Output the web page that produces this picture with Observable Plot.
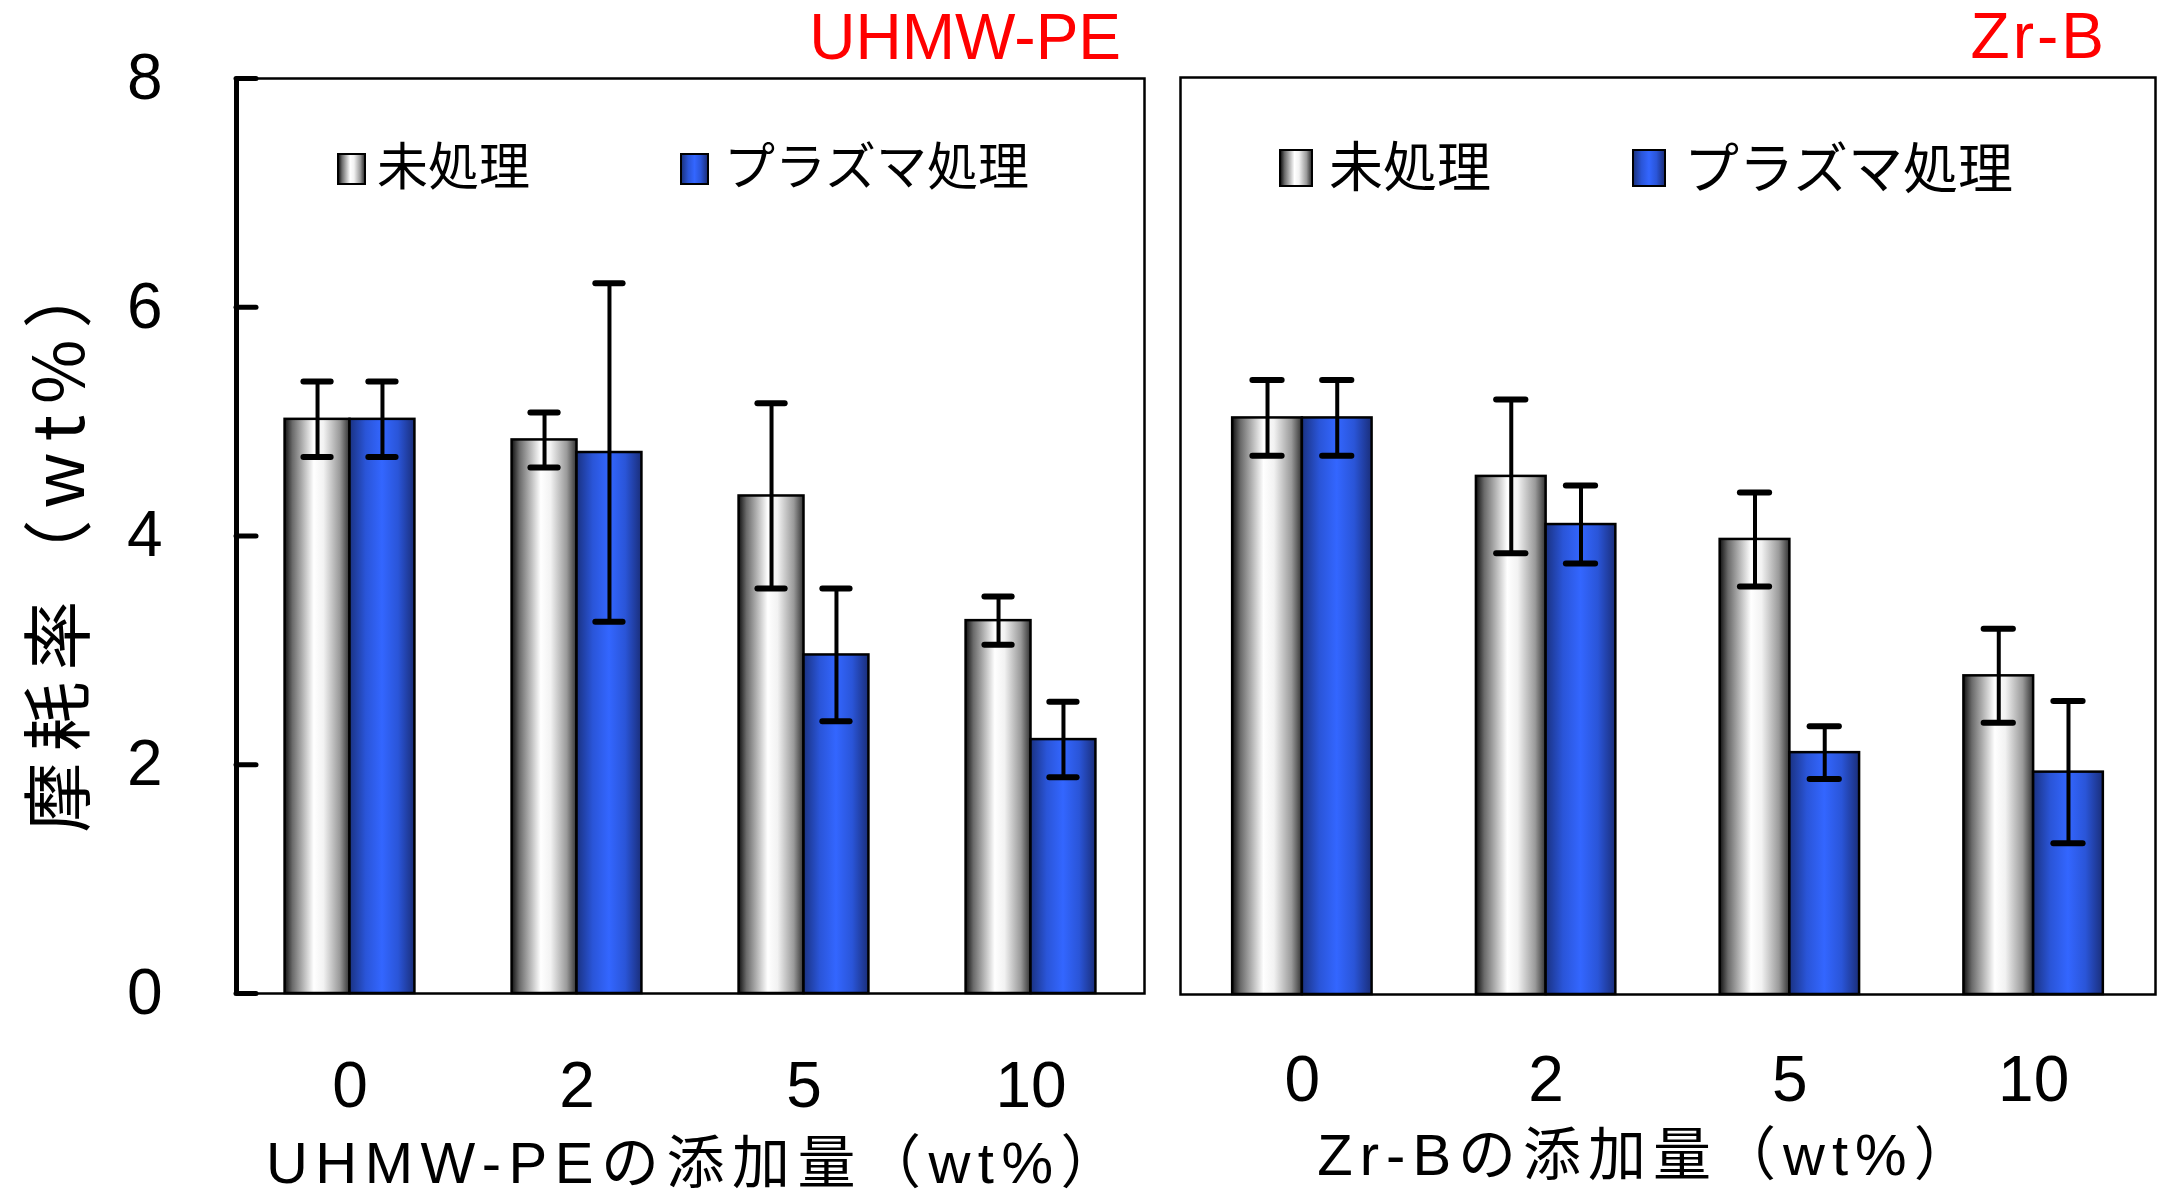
<!DOCTYPE html>
<html><head><meta charset="utf-8">
<script src="https://cdn.jsdelivr.net/npm/d3@7"></script>
<script src="https://cdn.jsdelivr.net/npm/@observablehq/plot@0.6"></script>
<style>
body{margin:0;background:#fff;}
#root{position:relative;width:2165px;height:1197px;overflow:hidden;font-family:"Noto Sans CJK JP","Noto Sans",sans-serif;color:#000;}
.abs{position:absolute;white-space:nowrap;line-height:1;}
.sw{position:absolute;box-sizing:border-box;border:2.5px solid #000;}
</style></head><body><div id="root"></div>
<script>
// ---- data ----
const groups = ["0", "2", "5", "10"];
const seriesNames = ["未処理", "プラズマ処理"];
const panelTitles = ["UHMW-PE", "Zr-B"];
const xTitles = ["UHMW-PEの添加量（wt%）", "Zr-Bの添加量（wt%）"];
const yTitle = "摩耗率（wt%）";
const yTicks = [0, 2, 4, 6, 8];

const uhmwUntreated    = [5.02, 4.84, 4.35, 3.26];
const uhmwUntreatedErr = [0.33, 0.24, 0.81, 0.21];
const uhmwPlasma       = [5.02, 4.73, 2.96, 2.22];
const uhmwPlasmaErr    = [0.33, 1.48, 0.58, 0.33];

const zrbUntreated     = [5.03, 4.52, 3.97, 2.78];
const zrbUntreatedErr  = [0.33, 0.67, 0.41, 0.41];
const zrbPlasma        = [5.03, 4.10, 2.11, 1.94];
const zrbPlasmaErr     = [0.33, 0.34, 0.23, 0.62];

// ---- helpers ----
const root = document.getElementById("root");
const FONT = '"Noto Sans CJK JP","Noto Sans",sans-serif';
const LAT = '"Liberation Sans",Arial,"Noto Sans CJK JP",sans-serif';

function addText(txt, style) {
  const d = document.createElement("div");
  d.className = "abs";
  d.textContent = txt;
  Object.assign(d.style, style);
  root.appendChild(d);
  return d;
}
function addSwatch(style, bg) {
  const d = document.createElement("div");
  d.className = "sw";
  Object.assign(d.style, style);
  d.style.background = bg;
  root.appendChild(d);
}
const grayCss = "linear-gradient(to right,#1a1a1a 0%,#6a6a6a 12%,#ffffff 45%,#f2f2f2 60%,#9a9a9a 85%,#3a3a3a 100%)";
const blueCss = "linear-gradient(to right,#1c3585 0%,#2a55d8 25%,#3366ff 50%,#2a55d8 75%,#1c3080 100%)";

function addGradients(svg, id) {
  const defs = d3.select(svg).insert("defs", ":first-child");
  const g = defs.append("linearGradient").attr("id", id + "-grad0").attr("x1", 0).attr("x2", 1).attr("y1", 0).attr("y2", 0);
  [[0, "#111111"], [0.12, "#6a6a6a"], [0.45, "#ffffff"], [0.6, "#f2f2f2"], [0.85, "#9a9a9a"], [1, "#333333"]]
    .forEach(([o, c]) => g.append("stop").attr("offset", o).attr("stop-color", c));
  const b = defs.append("linearGradient").attr("id", id + "-grad1").attr("x1", 0).attr("x2", 1).attr("y1", 0).attr("y2", 0);
  [[0, "#1a3282"], [0.25, "#2a55d8"], [0.5, "#3366ff"], [0.75, "#2a55d8"], [1, "#1a2e7a"]]
    .forEach(([o, c]) => b.append("stop").attr("offset", o).attr("stop-color", c));
}

function buildPanel(cfg) {
  const rows = [];
  cfg.series.forEach((s, si) => {
    groups.forEach((g, gi) => rows.push({group: g, gi, si, value: s.values[gi], err: s.errors[gi]}));
  });
  const W = 0.286, C = 0.06;
  const x1 = d => d.gi + 0.5 - (d.si === 0 ? W : 0);
  const x2 = d => x1(d) + W;
  const xc = d => x1(d) + W / 2;
  const frameW = cfg.width - cfg.marginLeft - cfg.marginRight;

  const marks = [];
  [0, 1].forEach(si => marks.push(Plot.rect(rows.filter(d => d.si === si), {
    x1, x2, y1: 0, y2: "value", fill: `url(#${cfg.id}-grad${si})`, stroke: "black", strokeWidth: 2.5
  })));
  marks.push(Plot.ruleX(rows, {x: xc, y1: d => d.value - d.err, y2: d => d.value + d.err, strokeWidth: 4, stroke: "black"}));
  marks.push(Plot.ruleY(rows, {y: d => d.value + d.err, x1: d => xc(d) - C, x2: d => xc(d) + C, strokeWidth: 6, strokeLinecap: "round", stroke: "black"}));
  marks.push(Plot.ruleY(rows, {y: d => d.value - d.err, x1: d => xc(d) - C, x2: d => xc(d) + C, strokeWidth: 6, strokeLinecap: "round", stroke: "black"}));
  marks.push(Plot.frame({stroke: "black", strokeWidth: 2.5}));
  marks.push(Plot.axisX(groups.map((g, i) => i + 0.5), {
    tickSize: 0, tickPadding: cfg.xTickPad, fontSize: 64, fontFamily: LAT, label: null,
    tickFormat: d => groups[Math.floor(d)]
  }));
  if (cfg.showY) {
    marks.push(Plot.ruleX([0], {strokeWidth: 5, stroke: "black"}));
    marks.push(Plot.tickY(yTicks, {y: d => d, strokeWidth: 5, stroke: "black", strokeLinecap: "round", insetRight: frameW - 20}));
    marks.push(Plot.axisY(yTicks, {tickSize: 0, tickPadding: 74, fontSize: 64, fontFamily: LAT, label: null, tickFormat: d => String(d)}));
  }
  const svg = Plot.plot({
    width: cfg.width,
    height: cfg.height,
    marginLeft: cfg.marginLeft,
    marginRight: cfg.marginRight,
    marginTop: cfg.marginTop,
    marginBottom: cfg.marginBottom,
    style: {fontFamily: FONT, background: "transparent", overflow: "visible"},
    x: {domain: [0, 4]},
    y: cfg.showY ? {domain: [0, 8]} : {domain: [0, 8], axis: null},
    marks
  });
  addGradients(svg, cfg.id);
  svg.style.position = "absolute";
  svg.style.left = cfg.left + "px";
  svg.style.top = "0px";
  svg.style.maxWidth = "none";
  root.appendChild(svg);
}

buildPanel({
  id: "uhmw", left: 0, width: 1160, height: 1197,
  marginLeft: 236, marginRight: 16, marginTop: 78, marginBottom: 204,
  xTickPad: 68, showY: true,
  series: [{values: uhmwUntreated, errors: uhmwUntreatedErr}, {values: uhmwPlasma, errors: uhmwPlasmaErr}]
});
buildPanel({
  id: "zrb", left: 1160, width: 1005, height: 1197,
  marginLeft: 20, marginRight: 10, marginTop: 77, marginBottom: 203,
  xTickPad: 61, showY: false,
  series: [{values: zrbUntreated, errors: zrbUntreatedErr}, {values: zrbPlasma, errors: zrbPlasmaErr}]
});

// panel titles (red)
addText(panelTitles[0], {right: (2165 - 1121) + "px", top: "5px", fontSize: "64px", color: "#ff0000", fontFamily: LAT});
addText(panelTitles[1], {right: (2165 - 2107) + "px", top: "4px", fontSize: "64px", color: "#ff0000", fontFamily: LAT, letterSpacing: "3px"});

// legends
addSwatch({left: "337px", top: "153px", width: "29px", height: "32px"}, grayCss);
addText(seriesNames[0], {left: "377px", top: "138px", fontSize: "51px"});
addSwatch({left: "680px", top: "153px", width: "29px", height: "32px"}, blueCss);
addText(seriesNames[1], {left: "724px", top: "138px", fontSize: "51px"});

addSwatch({left: "1279px", top: "149px", width: "34px", height: "38px"}, grayCss);
addText(seriesNames[0], {left: "1329px", top: "137px", fontSize: "54px"});
addSwatch({left: "1632px", top: "149px", width: "34px", height: "38px"}, blueCss);
addText(seriesNames[1], {left: "1684px", top: "137px", fontSize: "55px"});

// axis titles
addText(xTitles[0], {left: "696px", top: "1134px", fontSize: "58px", fontFamily: LAT, letterSpacing: "7.5px", transform: "translateX(-50%)"});
addText(xTitles[1], {left: "1648px", top: "1126px", fontSize: "58px", fontFamily: LAT, letterSpacing: "7px", transform: "translateX(-50%)"});
addText(yTitle, {left: "54px", top: "540px", fontSize: "70px", letterSpacing: "11px", transform: "translate(-50%,-50%) rotate(-90deg)"});
</script></body></html>
